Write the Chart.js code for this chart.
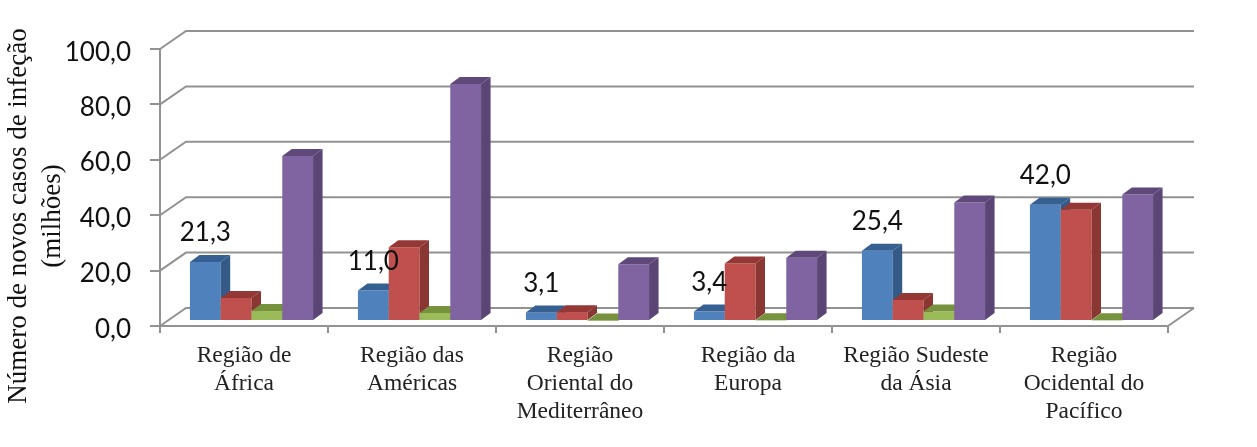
<!DOCTYPE html>
<html>
<head>
<meta charset="utf-8">
<script src="https://cdn.jsdelivr.net/npm/chart.js@4"></script>
<style>
  html, body { margin: 0; padding: 0; background: #fff; }
  #wrap { width: 1257px; height: 447px; }
</style>
</head>
<body>
<div id="wrap"><canvas id="myChart"></canvas></div>
<script>
const categories = [
  ["Região de", "África"],
  ["Região das", "Américas"],
  ["Região", "Oriental do", "Mediterrâneo"],
  ["Região da", "Europa"],
  ["Região Sudeste", "da Ásia"],
  ["Região", "Ocidental do", "Pacífico"],
];
const serie1 = [21.3, 11.0, 3.1, 3.4, 25.4, 42.0];
const serie2 = [8.3, 26.6, 3.2, 20.8, 7.6, 40.2];
const serie3 = [3.6, 2.9, 0.2, 0.3, 3.4, 0.3];
const serie4 = [59.6, 85.6, 20.5, 22.8, 42.8, 45.7];
const axisTitle = ["Número de novos casos de infeção", "(milhões)"];

const gridColor = "#929292";
const frontColors = ["#4f81bd", "#c0504d", "#9bbb59", "#8064a2"];
const sideColors = ["#345a88", "#8a3633", "#6f8a3c", "#5a4574"];
const topColors = ["#376092", "#953735", "#76923c", "#5f497a"];

// depth of the walls and of the bars
const wallX = 26, wallY = 18;
const barX = 9.5, barY = 7;
const shiftX = 7.5, shiftY = -5;

function poly(ctx, pts, color) {
  ctx.fillStyle = color;
  ctx.beginPath();
  ctx.moveTo(pts[0][0], pts[0][1]);
  for (let i = 1; i < pts.length; i++) ctx.lineTo(pts[i][0], pts[i][1]);
  ctx.closePath();
  ctx.fill();
}

const threeD = {
  id: "threeD",
  beforeDatasetsDraw(chart) {
    const ctx = chart.ctx;
    const area = chart.chartArea;
    const y = chart.scales.y;
    ctx.save();
    ctx.strokeStyle = gridColor;
    ctx.lineWidth = 2;
    y.ticks.forEach((t) => {
      const py = y.getPixelForValue(t.value);
      ctx.beginPath();
      ctx.moveTo(area.left, py);
      ctx.lineTo(area.left + wallX, py - wallY);
      ctx.lineTo(area.right + wallX, py - wallY);
      ctx.stroke();
    });
    ctx.beginPath();
    ctx.moveTo(area.right, area.bottom);
    ctx.lineTo(area.right + wallX, area.bottom - wallY);
    ctx.stroke();
    ctx.restore();

    // bars go left to right so each front hides the side of the one before it
    ctx.save();
    ctx.translate(shiftX, shiftY);
    chart.data.datasets.forEach((set, i) => {
      const meta = chart.getDatasetMeta(i);
      meta.controller.draw();
      meta.data.forEach((bar) => {
        const l = bar.x - bar.width / 2;
        const r = bar.x + bar.width / 2;
        poly(ctx, [[r, bar.y], [r + barX, bar.y - barY], [r + barX, bar.base - barY], [r, bar.base]], sideColors[i]);
        poly(ctx, [[l, bar.y], [l + barX, bar.y - barY], [r + barX, bar.y - barY], [r, bar.y]], topColors[i]);
      });
    });
    ctx.restore();
  },
  beforeDatasetDraw() {
    return false;
  },
  afterDatasetsDraw(chart) {
    // only the first series has value labels
    const ctx = chart.ctx;
    const meta = chart.getDatasetMeta(0);
    ctx.save();
    ctx.fillStyle = "#111";
    ctx.font = "26px Lato";
    ctx.textAlign = "center";
    ctx.textBaseline = "middle";
    meta.data.forEach((bar, i) => {
      ctx.fillText(serie1[i].toFixed(1).replace(".", ","), bar.x + shiftX, bar.y + shiftY - 29);
    });

    // axis title sits lower than the middle of the axis
    ctx.fillStyle = "#111";
    ctx.font = "27px 'Liberation Serif'";
    ctx.translate(19, 216);
    ctx.rotate(-Math.PI / 2);
    ctx.fillText(axisTitle[0], 0, 0);
    ctx.fillText(axisTitle[1], 0, 34);
    ctx.restore();
  },
};

function makeSet(values, i) {
  return {
    data: values,
    backgroundColor: frontColors[i],
    borderWidth: 0,
    categoryPercentage: 0.733,
    barPercentage: 1,
  };
}

const ctx = document.getElementById("myChart").getContext("2d");
const myChart = new Chart(ctx, {
  type: "bar",
  data: {
    labels: categories,
    datasets: [makeSet(serie1, 0), makeSet(serie2, 1), makeSet(serie3, 2), makeSet(serie4, 3)],
  },
  plugins: [threeD],
  options: {
    responsive: true,
    maintainAspectRatio: false,
    animation: false,
    layout: { padding: { top: 49, right: 89, left: 0, bottom: 0 } },
    plugins: { legend: { display: false }, tooltip: { enabled: false } },
    scales: {
      x: {
        afterFit(scale) { scale.height = 121; },
        grid: { drawOnChartArea: false, color: gridColor, lineWidth: 2, tickLength: 7 },
        border: { color: gridColor, width: 2 },
        ticks: {
          color: "#222",
          maxRotation: 0,
          autoSkip: false,
          padding: 9,
          font: { family: "'Liberation Serif'", size: 23.5, lineHeight: 1.19 },
        },
      },
      y: {
        min: 0,
        max: 100,
        afterFit(scale) { scale.width = 160; },
        grid: { drawOnChartArea: false, color: gridColor, lineWidth: 2, tickLength: 10 },
        border: { color: gridColor, width: 2 },
        ticks: {
          stepSize: 20,
          color: "#111",
          padding: 19,
          // blank first line pushes the text a little below its tick, as in the original
          font: { family: "Lato", size: 26, lineHeight: 0.25 },
          callback: (v) => ["", v.toFixed(1).replace(".", ",")],
        },
      },
    },
  },
});
</script>
</body>
</html>
